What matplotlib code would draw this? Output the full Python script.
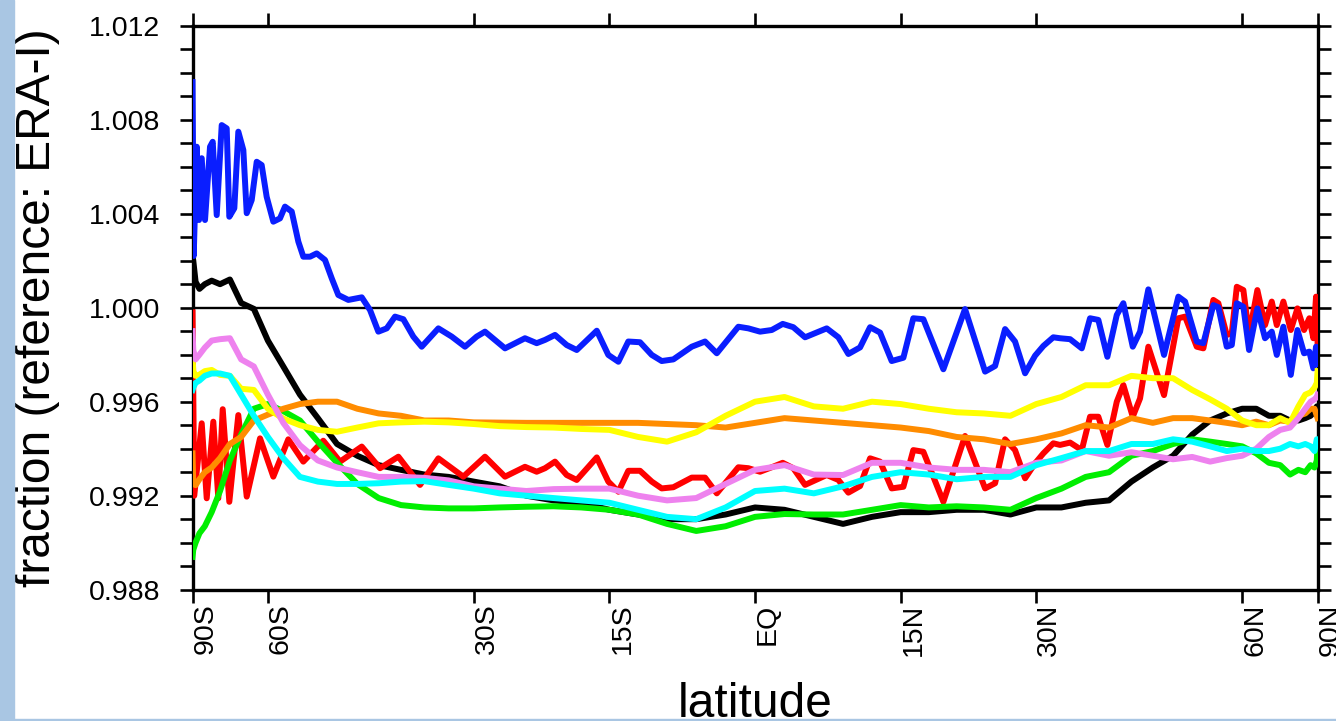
import numpy as np
import matplotlib
matplotlib.use("Agg")
import matplotlib.pyplot as plt
from matplotlib.patches import Rectangle
from matplotlib.ticker import FixedLocator, MultipleLocator, NullLocator, FormatStrFormatter

plt.rcParams['font.family'] = ['Liberation Sans', 'DejaVu Sans']

# latitude grid (3 deg) for the smooth curves
lat_grid = list(range(-90, 91, 3))

black = [1.0022, 1.0020, 1.0011, 1.0008, 1.0010, 1.00115, 1.0010, 1.0012, 1.0002, 0.99995,
         0.9986, 0.9975, 0.9963, 0.9953, 0.9942, 0.9937, 0.9933, 0.9931, 0.9929, 0.9928,
         0.9926, 0.9924, 0.9920, 0.9918, 0.9917, 0.9914, 0.9912, 0.9910, 0.9910, 0.9912,
         0.9915, 0.9914, 0.9911, 0.9908, 0.9911, 0.9913, 0.9913, 0.9914, 0.9914, 0.9912,
         0.9915, 0.9915, 0.9917, 0.9918, 0.9926, 0.9932, 0.9937, 0.9946, 0.9952, 0.9955,
         0.9957, 0.9957, 0.9954, 0.9954, 0.9952, 0.9952, 0.9953, 0.9954, 0.9956, 0.9958,
         0.9958]

violet = [0.9990, 0.9982, 0.9978, 0.9980, 0.9983, 0.9986, 0.99866, 0.9987, 0.9978, 0.9975,
          0.9963, 0.9951, 0.99415, 0.9935, 0.9932, 0.9930, 0.9928, 0.9928, 0.99276, 0.99265,
          0.9924, 0.9923, 0.9922, 0.99228, 0.9923, 0.9923, 0.9920, 0.9918, 0.9919, 0.9925,
          0.9931, 0.9933, 0.9929, 0.99288, 0.9934, 0.9934, 0.9932, 0.9931, 0.9931, 0.9930,
          0.9934, 0.9935, 0.9939, 0.9937, 0.99385, 0.9937, 0.99355, 0.99365, 0.99345, 0.9936,
          0.9937, 0.9940, 0.9945, 0.9948, 0.9949, 0.9953, 0.9957, 0.9960, 0.9961, 0.9962,
          0.9963]

cyan = [0.9965, 0.9966, 0.9968, 0.9969, 0.9971, 0.9972, 0.9972, 0.9971, 0.9963, 0.9954,
        0.9945, 0.9936, 0.9928, 0.9926, 0.9925, 0.9925, 0.99253, 0.9926, 0.99262, 0.99246,
        0.9923, 0.9921, 0.9920, 0.9919, 0.9918, 0.9917, 0.9914, 0.9911, 0.9910, 0.9915,
        0.9922, 0.9923, 0.9921, 0.9924, 0.9928, 0.9930, 0.9929, 0.9927, 0.9928, 0.9928,
        0.9933, 0.9936, 0.9939, 0.9939, 0.9942, 0.9942, 0.9944, 0.9943, 0.9941, 0.9939,
        0.9940, 0.9939, 0.9939, 0.9940, 0.9942, 0.9941, 0.9942, 0.9941, 0.9939, 0.9944,
        0.9944]

green = [0.9894, 0.9897, 0.9900, 0.9904, 0.9907, 0.9913, 0.9922, 0.9935, 0.9946, 0.9957,
         0.9959, 0.9956, 0.9952, 0.9943, 0.9934, 0.9925, 0.9919, 0.9916, 0.9915, 0.99146,
         0.99146, 0.9915, 0.99153, 0.99155, 0.9915, 0.9914, 0.9912, 0.9908, 0.9905, 0.9907,
         0.9911, 0.99122, 0.9912, 0.9912, 0.9914, 0.9916, 0.9915, 0.99155, 0.9915, 0.9914,
         0.9919, 0.9923, 0.9928, 0.9930, 0.9937, 0.9939, 0.9942, 0.9944, 0.9943, 0.9942,
         0.9941, 0.9938, 0.9934, 0.9933, 0.9929, 0.9931, 0.9930, 0.9933, 0.9932, 0.9935,
         0.9942]

orange = [0.9938, 0.9925, 0.99245, 0.9927, 0.9930, 0.9932, 0.9936, 0.9942, 0.9945, 0.9952,
          0.99545, 0.9957, 0.9959, 0.9960, 0.9960, 0.9957, 0.9955, 0.9954, 0.9952, 0.9952,
          0.99512, 0.99511, 0.9951, 0.9951, 0.9951, 0.9951, 0.9951, 0.99505, 0.9950, 0.9949,
          0.9951, 0.9953, 0.9952, 0.9951, 0.9950, 0.9949, 0.99475, 0.9945, 0.9944, 0.9942,
          0.9944, 0.99465, 0.9950, 0.9949, 0.9953, 0.9951, 0.9953, 0.9953, 0.9952, 0.9951,
          0.9950, 0.99515, 0.9950, 0.9952, 0.99515, 0.9954, 0.9955, 0.9957, 0.9957, 0.9954,
          0.9953]

yellow = [0.9980, 0.9973, 0.9971, 0.99715, 0.9973, 0.99735, 0.99714, 0.9971, 0.99655, 0.9965,
          0.9957, 0.99528, 0.9950, 0.9948, 0.99472, 0.9949, 0.99508, 0.99512, 0.99515, 0.99512,
          0.99505, 0.99496, 0.99492, 0.9949, 0.99484, 0.9948, 0.9945, 0.9943, 0.9947, 0.9954,
          0.9960, 0.9962, 0.9958, 0.9957, 0.9960, 0.9959, 0.9957, 0.99555, 0.9955, 0.9954,
          0.9959, 0.9962, 0.9967, 0.9967, 0.9971, 0.9970, 0.9970, 0.9965, 0.9961, 0.9957,
          0.9952, 0.9950, 0.9950, 0.9953, 0.9951, 0.9958, 0.9963, 0.9964, 0.9966, 0.9968,
          0.9973]

# spiky curves: vertices read at their own latitudes
lat_blue = [-90, -86.26, -82.99, -81.28, -79.62, -77.9, -75.67, -74.6, -73.13, -71.46,
            -69.92, -69.16, -67.77, -66.72, -65.46, -64.64, -63.48, -62.36, -61.29, -60.25,
            -58.91, -57.62, -56.68, -55.45, -54.28, -53.42, -52.29, -51.19, -49.86, -48.81,
            -47.8, -46.3, -44.36, -43.19, -42.04, -40.9, -39.79, -38.7, -37.41, -36.34,
            -34.26, -32.63, -31.04, -29.66, -28.69, -26.39, -24.14, -22.84, -21.92, -20.83,
            -19.56, -18.48, -16.34, -15.12, -14.06, -13.02, -11.8, -10.58, -9.55, -8.35,
            -6.46, -5.1, -3.9, -1.7, -0.68, 0.51, 1.7, 2.82, 3.9, 5.1,
            7.32, 8.52, 9.55, 10.76, 11.8, 12.84, 14.06, 15.29, 16.34, 17.41,
            19.56, 21.92, 24.14, 25.26, 26.39, 27.53, 28.69, 29.86, 30.83, 32.02,
            32.83, 34.06, 35.51, 36.55, 37.61, 38.78, 40.02, 40.9, 42.18, 43.19,
            44.36, 46.64, 48.81, 49.86, 51.74, 52.84, 54.56, 55.45, 56.99, 57.94,
            58.92, 60.24, 61.43, 63.25, 65.04, 66.72, 68.05, 69.92, 72.25, 74.63,
            77.42, 80.2, 82.98, 85.8, 90]
blue = [1.0096, 1.0022, 1.00685, 1.00373, 1.00636, 1.00373, 1.00685, 1.00706, 1.00394, 1.00777,
        1.00763, 1.00387, 1.00423, 1.00749, 1.00671, 1.00402, 1.00458, 1.00621, 1.00607, 1.00472,
        1.00366, 1.0038, 1.0043, 1.00409, 1.00281, 1.00217, 1.00217, 1.00231, 1.00203, 1.00125,
        1.00054, 1.00033, 1.00044, 0.9999, 0.99898, 0.99912, 0.99962, 0.99951, 0.99877, 0.99834,
        0.99912, 0.99877, 0.99834, 0.99877, 0.99898, 0.99827, 0.9987, 0.99849, 0.99863, 0.99884,
        0.99841, 0.9982, 0.99902, 0.99799, 0.9977, 0.99856, 0.99853, 0.99799, 0.99773, 0.9978,
        0.99834, 0.99856, 0.99806, 0.99919, 0.99912, 0.99898, 0.99905, 0.99931, 0.99917, 0.99874,
        0.99912, 0.99874, 0.99803, 0.99831, 0.99917, 0.99894, 0.99773, 0.99787, 0.99955, 0.99951,
        0.99738, 0.99994, 0.99728, 0.99752, 0.99909, 0.99856, 0.99721, 0.99796, 0.99837, 0.99874,
        0.9987, 0.99866, 0.99827, 0.99955, 0.99948, 0.99791, 0.99969, 1.00019, 0.99834, 0.99898,
        1.00078, 0.99799, 1.00047, 1.00026, 0.99856, 0.99849, 1.00011, 1.00002, 0.99834, 0.99841,
        1.00019, 1.00004, 0.9982, 0.99997, 0.9987, 0.99898, 0.99799, 0.99919, 0.99714, 0.99905,
        0.99806, 0.99813, 0.99742, 0.99834, 0.9976]

lat_red = [-90, -85.5, -79.62, -77.1, -74.37, -72.58, -71.14, -69.16, -66.72, -64.64,
           -61.64, -58.91, -56.07, -53.42, -50.13, -47.54, -44.36, -41.81, -39.35, -36.55,
           -34.26, -31.24, -28.69, -26.39, -24.14, -22.84, -21.92, -20.83, -19.56, -18.48,
           -16.34, -15.12, -14.06, -13.02, -11.8, -10.58, -9.55, -8.35, -6.46, -5.1,
           -3.9, -1.7, -0.68, 0.51, 1.7, 2.82, 3.9, 5.1, 7.32, 8.52,
           9.55, 10.76, 11.8, 12.84, 14.06, 15.29, 16.34, 17.41, 19.56, 21.92,
           24.14, 25.26, 26.39, 27.53, 28.69, 29.86, 30.83, 32.02, 32.83, 34.06,
           35.51, 36.55, 37.61, 38.78, 40.02, 40.9, 42.18, 43.19, 44.36, 46.64,
           48.81, 49.86, 51.74, 52.84, 54.56, 55.45, 56.99, 57.94, 58.92, 60.24,
           61.43, 63.25, 65.04, 66.72, 68.05, 69.92, 72.25, 74.63, 77.42, 80.2,
           82.98, 85.8, 90]
red = [0.9998, 0.9920, 0.99508, 0.99189, 0.99515, 0.99189, 0.99568, 0.99174, 0.99543, 0.99196,
       0.99444, 0.99281, 0.9944, 0.99345, 0.99434, 0.99345, 0.99409, 0.99317, 0.99366, 0.99246,
       0.99359, 0.99281, 0.99366, 0.99281, 0.99323, 0.99302, 0.99317, 0.99345, 0.99288, 0.99267,
       0.99363, 0.9926, 0.99217, 0.99306, 0.99306, 0.9926, 0.99231, 0.99236, 0.99277, 0.99277,
       0.9921, 0.99321, 0.99317, 0.99302, 0.99321, 0.9934, 0.99317, 0.99246, 0.99288, 0.99267,
       0.99213, 0.99241, 0.99359, 0.99345, 0.99231, 0.99238, 0.99394, 0.99387, 0.99174, 0.99454,
       0.99231, 0.99253, 0.9944, 0.99394, 0.99274, 0.99338, 0.9938, 0.99423, 0.99416, 0.99426,
       0.99394, 0.99536, 0.99536, 0.99416, 0.996, 0.99671, 0.99536, 0.99614, 0.99834, 0.99628,
       0.99955, 0.99962, 0.99834, 0.99827, 1.00033, 1.00019, 0.99884, 0.99891, 1.00089, 1.00075,
       0.99884, 1.00075, 0.99926, 1.00026, 0.99926, 1.00026, 0.99905, 0.99997, 0.99905, 0.99955,
       0.9987, 1.00047, 0.9985]

lat_ticks = [-90, -60, -30, -15, 0, 15, 30, 60, 90]
lat_labels = ['90S', '60S', '30S', '15S', 'EQ', '15N', '30N', '60N', '90N']


def sin_lat(lat):
    return np.sin(np.radians(lat))


def asin_lat(s):
    return np.degrees(np.arcsin(np.clip(s, -1.0, 1.0)))


fig = plt.figure(figsize=(13.36, 7.21), dpi=100)
ax = fig.add_axes([0.1441, 0.1821, 0.8421, 0.7823])

ax.set_xscale('function', functions=(sin_lat, asin_lat))
ax.set_xlim(-90, 90)
ax.set_ylim(0.988, 1.012)

ax.axhline(1.0, color='black', lw=1.7, zorder=1)

lw = 4.3
ax.plot(lat_grid, black, color='black', lw=lw, zorder=2)
ax.plot(lat_red, red, color='#ff0000', lw=lw, zorder=3)
ax.plot(lat_blue, blue, color='#0a1eff', lw=lw, zorder=4)
ax.plot(lat_grid, green, color='#00ee00', lw=lw, zorder=5)
ax.plot(lat_grid, orange, color='#ff8c00', lw=lw, zorder=6)
ax.plot(lat_grid, yellow, color='#ffff00', lw=lw, zorder=7)
ax.plot(lat_grid, violet, color='#ee82ee', lw=lw, zorder=8)
ax.plot(lat_grid, cyan, color='#00ffff', lw=lw, zorder=9)

ax.xaxis.set_major_locator(FixedLocator(lat_ticks))
ax.xaxis.set_minor_locator(NullLocator())
ax.set_xticklabels(lat_labels)
ax.yaxis.set_major_locator(MultipleLocator(0.004))
ax.yaxis.set_minor_locator(MultipleLocator(0.001))
ax.yaxis.set_major_formatter(FormatStrFormatter('%.3f'))

for sp in ax.spines.values():
    sp.set_linewidth(2.4)
ax.tick_params(which='both', direction='out', length=9.5, width=1.9,
               top=True, right=True, labelsize=20.5)
ax.tick_params(axis='y', pad=14)
ax.tick_params(axis='x', pad=0.5)
for t in ax.get_xticklabels():
    t.set_rotation(90)
    t.set_ha('left')
    t.set_va('top')

fig.text(50 / 1336, 1 - 307.7 / 721, 'fraction (reference: ERA-I)', fontsize=34.5,
         rotation=90, rotation_mode='anchor', ha='center', va='baseline')
fig.text(755 / 1336, 1 - 717 / 721, 'latitude', fontsize=34.5,
         ha='center', va='baseline')

# light blue frame strips at left and bottom
fig.add_artist(Rectangle((0, 0), 14 / 1336, 1, transform=fig.transFigure,
                         color='#a9c6e3', zorder=20))
fig.add_artist(Rectangle((0, 0), 1, 2.5 / 721, transform=fig.transFigure,
                         color='#a9c6e3', zorder=20))

fig.savefig('out.png', dpi=100)
